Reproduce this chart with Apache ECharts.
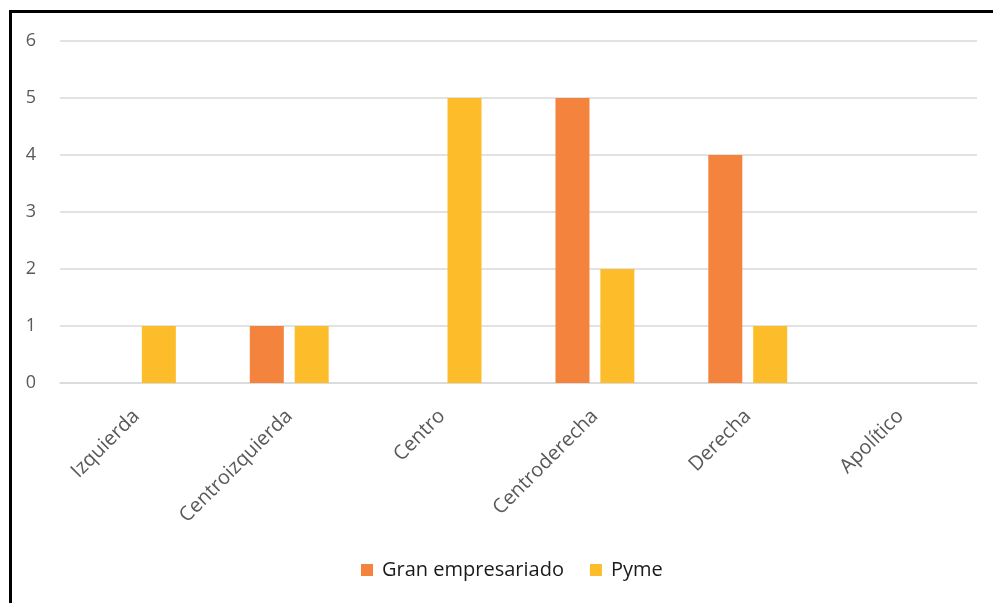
<!DOCTYPE html>
<html>
<head>
<meta charset="utf-8">
<script src="https://cdn.jsdelivr.net/npm/echarts@6/dist/echarts.min.js"></script>
<style>
  html, body { margin: 0; padding: 0; background: #fff; }
  #frame { position: absolute; left: 9px; top: 10px; width: 1000px; height: 620px;
           border-left: 3px solid #000; border-top: 3px solid #000; box-sizing: border-box; }
  #chart { position: absolute; left: 0; top: 0; width: 993px; height: 603px; }
</style>
</head>
<body>
<div id="frame"></div>
<div id="chart"></div>
<script>
const categories = ['Izquierda', 'Centroizquierda', 'Centro', 'Centroderecha', 'Derecha', 'Apolítico'];
const granEmpresariado = [0, 1, 0, 5, 4, 0];
const pyme = [1, 1, 5, 2, 1, 0];
const yTicks = [0, 1, 2, 3, 4, 5, 6];

const chart = echarts.init(document.getElementById('chart'), null, { renderer: 'canvas' });
chart.setOption({
  backgroundColor: 'transparent',
  animation: false,
  grid: { left: 60, right: 16, top: 41, bottom: 220 },
  legend: {
    top: 555,
    left: 356,
    itemWidth: 12,
    itemHeight: 12,
    itemGap: 26,
    icon: 'rect',
    textStyle: { fontFamily: 'Open Sans', fontSize: 20, color: '#1a1a1a', padding: [0, 0, 0, 4] },
    data: ['Gran empresariado', 'Pyme']
  },
  xAxis: {
    type: 'category',
    data: categories,
    axisLine: { lineStyle: { color: '#D9D9D9', width: 1.5 } },
    axisTick: { show: false },
    axisLabel: {
      rotate: 45,
      interval: 0,
      margin: 30,
      fontFamily: 'Open Sans',
      fontSize: 20,
      color: '#595959'
    }
  },
  yAxis: {
    type: 'value',
    min: yTicks[0],
    max: yTicks[yTicks.length - 1],
    interval: 1,
    axisLine: { show: false },
    axisTick: { show: false },
    axisLabel: { margin: 24, fontFamily: 'Open Sans', fontSize: 18, color: '#595959' },
    splitLine: { lineStyle: { color: '#D9D9D9', width: 1.5 } }
  },
  series: [
    {
      name: 'Gran empresariado',
      type: 'bar',
      data: granEmpresariado,
      barWidth: 34,
      barGap: '32%',
      itemStyle: { color: '#F4843D' }
    },
    {
      name: 'Pyme',
      type: 'bar',
      data: pyme,
      barWidth: 34,
      barGap: '32%',
      itemStyle: { color: '#FDBD2B' }
    }
  ]
});
</script>
</body>
</html>
